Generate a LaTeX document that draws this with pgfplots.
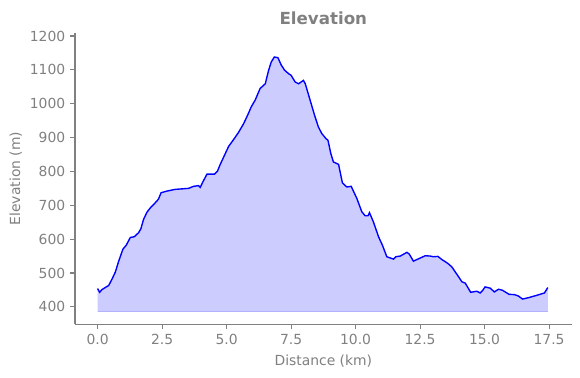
\documentclass[border=0pt]{standalone}
\usepackage{fontspec}
\setmainfont{DejaVu Sans}
\usepackage{pgfplots}
\pgfplotsset{compat=1.18}
\usepgfplotslibrary{fillbetween}
\usepackage{pgfplotstable}
\definecolor{txtgray}{RGB}{128,128,128}
\pgfplotstableread{
d v
0 454
0.08 443
0.17 451
0.34 459
0.43 463
0.56 482
0.69 503
0.81 533
0.98 570
1.11 582
1.27 605
1.42 607
1.59 619
1.68 631
1.78 658
1.91 679
2.04 692
2.17 702
2.36 718
2.46 737
2.69 742
3.01 747
3.53 750
3.72 756
3.91 758
3.98 753
4.08 769
4.24 792
4.53 792
4.65 801
4.75 820
4.92 848
5.08 874
5.27 894
5.46 915
5.66 941
5.85 972
5.95 990
6.11 1011
6.30 1045
6.50 1059
6.63 1099
6.73 1123
6.85 1138
6.99 1136
7.12 1114
7.25 1099
7.40 1089
7.50 1084
7.66 1064
7.79 1059
7.98 1069
8.05 1059
8.24 1010
8.41 966
8.56 931
8.69 912
8.85 897
8.93 892
9.04 853
9.14 828
9.34 821
9.49 766
9.66 754
9.83 756
10.05 720
10.24 681
10.37 669
10.48 669
10.54 678
10.69 651
10.89 607
11.04 582
11.21 548
11.47 541
11.56 548
11.73 550
11.92 558
11.99 561
12.08 556
12.24 535
12.50 544
12.70 551
12.89 550
13.02 548
13.19 549
13.34 540
13.58 528
13.73 518
13.99 489
14.12 474
14.25 470
14.46 443
14.70 446
14.83 441
14.92 448
15.02 459
15.22 455
15.38 444
15.54 452
15.69 449
15.82 443
15.95 437
16.16 436
16.31 432
16.47 423
16.70 427
17.02 434
17.32 441
17.45 457
}\elev
\pgfplotstableread{
d v
0 385
17.45 385
}\base

\begin{document}
\begin{tikzpicture}
\begin{axis}[
  name=ax,
  scale only axis,
  width=357.6bp, height=210.1bp,
  xmin=-0.875, xmax=18.375, ymin=348, ymax=1210,
  axis x line*=bottom, axis y line*=left,
  axis line style={txtgray, line width=0.8bp},
  tick style={txtgray, line width=0.8bp},
  tick align=outside, major tick length=3.5bp,
  xtick={0,2.5,5,7.5,10,12.5,15,17.5},
  ytick={400,500,600,700,800,900,1000,1100,1200},
  scaled ticks=false,
  x tick label style={/pgf/number format/fixed, /pgf/number format/fixed zerofill, /pgf/number format/precision=1},
  y tick label style={/pgf/number format/fixed, /pgf/number format/1000 sep={}},
  /pgf/number format/assume math mode=true,
  tick label style={font=\fontsize{10bp}{12bp}\selectfont, text=txtgray},
  xlabel={Distance (km)}, ylabel={Elevation (m)},
  label style={font=\fontsize{10bp}{12bp}\selectfont, text=txtgray},
  xlabel style={at={(axis description cs:0.5,-0.1412)}, anchor=base},
  ylabel style={at={(axis description cs:-0.1107,0.5)}, anchor=base},
]
\addplot[name path=A, blue, line width=1bp] table[x=d, y=v] {\elev};
\addplot[name path=B, draw=blue!30, line width=0.8bp] table[x=d, y=v] {\base};
\addplot[fill=blue!20, draw=none] fill between[of=A and B];
\end{axis}
\node[anchor=base, yshift=5.8bp, inner sep=0pt, font=\bfseries\fontsize{12bp}{14bp}\selectfont, text=txtgray] at (ax.north) {Elevation};
\pgfresetboundingbox
\path (ax.south west) ++(-54bp,-38.5bp) coordinate (bl);
\path (ax.north east) ++(6bp,23.5bp) coordinate (tr);
\path[use as bounding box] (bl) rectangle (tr);
\end{tikzpicture}
\end{document}
